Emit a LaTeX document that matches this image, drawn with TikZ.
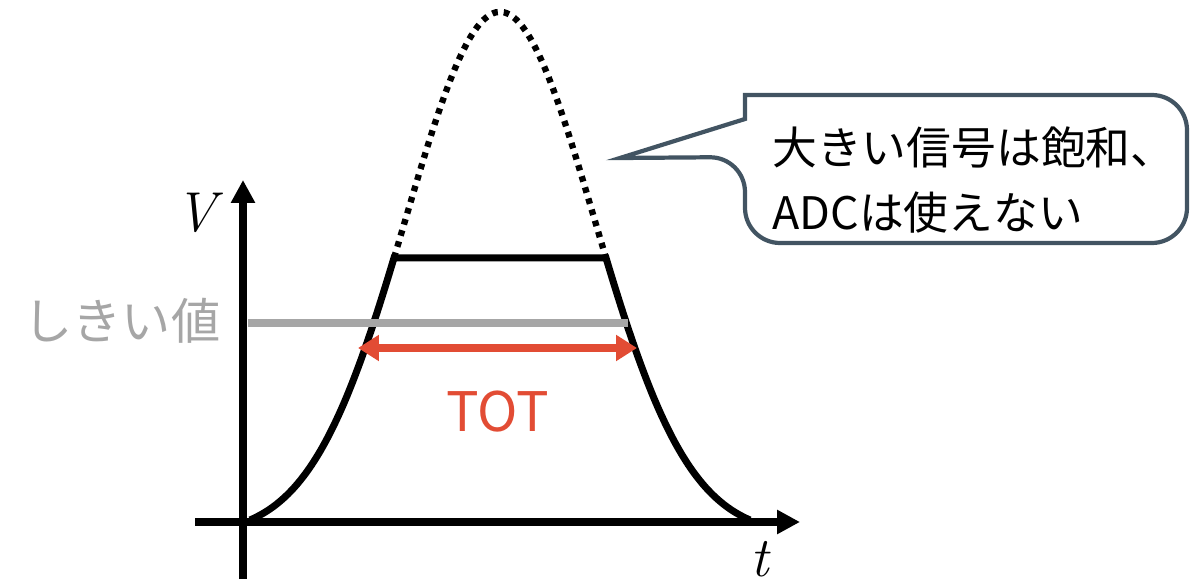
\documentclass[tikz,border=0pt]{standalone}
\usepackage{fontspec}
\usepackage{tikz}
\usetikzlibrary{arrows.meta, positioning}
\newfontfamily\jpfont{Noto Sans CJK JP}
\definecolor{sigred}{RGB}{226,76,52}
\definecolor{thrgray}{RGB}{166,166,166}
\definecolor{notedark}{RGB}{66,84,98}
\tikzset{
  axisline/.style={line width=4pt, black, -{Triangle[length=0.46cm, width=0.46cm]}},
  pulse/.style={line width=4pt, black, line join=miter},
  overflow/.style={line width=3.6pt, black, dash pattern=on 3.2pt off 3.4pt},
  thrline/.style={line width=4pt, thrgray},
  totarrow/.style={line width=4pt, sigred,
    {Triangle[length=0.42cm, width=0.5cm]}-{Triangle[length=0.42cm, width=0.5cm]}},
  notebox/.style={line width=2.4pt, notedark, fill=white},
  jplabel/.style={font=\jpfont\fontsize{28}{34}\selectfont, inner sep=0pt},
  axlabel/.style={font=\fontsize{32}{38}\selectfont\itshape, inner sep=0pt}
}
% pulse height (pixel units, y grows downwards)
\newcommand{\pulsey}[1]{520-508*(exp(-((#1-500)/100)*((#1-500)/100)/1.7695)-0.0292)/0.9708}

\begin{document}
\begin{tikzpicture}[x=0.02cm, y=-0.02cm]
  \useasboundingbox (0,0) rectangle (1191,584);
  % axes
  \coordinate (xstart) at (195,522);
  \coordinate (xend) at (800,522);
  \coordinate (ystart) at (243,579);
  \coordinate (yend) at (243,180);
  \draw[axisline] (xstart) -- (xend);
  \draw[axisline] (ystart) -- (yend);
  \node[axlabel] (vlab) at (196,213) {V};
  \node[axlabel] (tlab) at (760,559) {t};
  % signal: saturated pulse and the clipped part
  \draw[pulse] plot[domain=250:394, samples=50] (\x, {\pulsey{\x}})
    -- plot[domain=606:750, samples=50] (\x, {\pulsey{\x}});
  \draw[overflow] plot[domain=394:606, samples=80] (\x, {\pulsey{\x}});
  % threshold and time over threshold
  \coordinate (thrL) at (248,323);
  \coordinate (thrR) at (628,323);
  \draw[thrline] (thrL) -- (thrR);
  \node[jplabel, text=thrgray] (thr) at (122,321) {しきい値};
  \coordinate (totL) at (358,348);
  \coordinate (totR) at (637,348);
  \draw[totarrow] (totL) -- (totR);
  \node[jplabel, text=sigred, font=\jpfont\fontsize{31}{36}\selectfont] (tot) at (498,412) {TOT};
  % callout
  \draw[notebox] (620,158) -- (745,119) -- (745,95) [rounded corners=20]
    -- (1187,95) -- (1187,243) -- (745,243) -- (745,157) [sharp corners] -- cycle;
  \node[jplabel, font=\jpfont\fontsize{25.5}{37}\selectfont, align=left, anchor=west] (note)
    at (772,180) {大きい信号は飽和、\\ADCは使えない};
\end{tikzpicture}
\end{document}
